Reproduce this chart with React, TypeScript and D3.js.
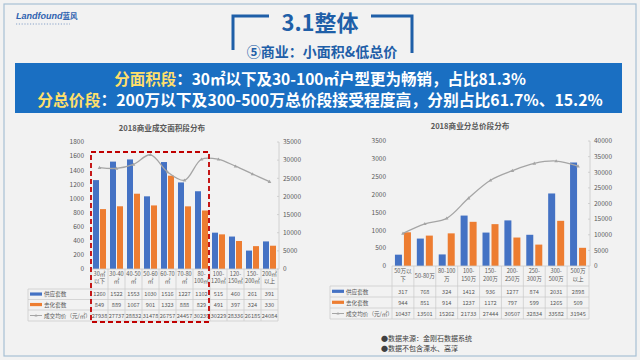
import React from 'react';
import * as d3 from 'd3';

// ---------- data ----------
const areaCats = ['30㎡\n以下', '30-40\n㎡', '40-50\n㎡', '50-60\n㎡', '60-70\n㎡', '70-80\n㎡', '80-\n100㎡', '100-\n120㎡', '120-\n150㎡', '150-\n200㎡', '200㎡\n以上'];
const areaSupply = [1260, 1522, 1553, 1030, 1516, 1227, 1102, 515, 460, 261, 391];
const areaSold = [849, 889, 1067, 901, 1323, 888, 829, 491, 397, 324, 330];
const areaPrice = [27938, 27737, 28832, 31478, 26757, 24457, 30239, 30229, 28336, 26185, 24084];

const priceCats = ['50万以\n下', '50-80万', '80-100\n万', '100-\n150万', '150-\n200万', '200-\n250万', '250-\n300万', '300-\n500万', '500万\n以上'];
const priceSupply = [317, 768, 324, 1412, 936, 1277, 874, 2031, 2898];
const priceSold = [944, 851, 914, 1237, 1172, 797, 599, 1265, 509];
const priceAvg = [10437, 13501, 15262, 21733, 27444, 30507, 32834, 33582, 31945];

const seriesNames = ['供应套数', '去化套数', '成交均价（元/㎡）'];
const areaLeftTicks = [0, 200, 400, 600, 800, 1000, 1200, 1400, 1600, 1800];
const areaRightTicks = [0, 5000, 10000, 15000, 20000, 25000, 30000, 35000];
const priceLeftTicks = [0, 500, 1000, 1500, 2000, 2500, 3000, 3500];
const priceRightTicks = [0, 5000, 10000, 15000, 20000, 25000, 30000, 35000, 40000];

const BLUE = '#4472c4';
const ORANGE = '#ed7d31';
const GRAY = '#a5a5a5';
const TXT = '#595959';
const GRID = '#c9c9c9';
const FONT = '"Noto Sans CJK SC", "Noto Sans", sans-serif';

type ChartProps = {
  title: string;
  titleX: number;
  titleY: number;
  cats: string[];
  supply: number[];
  sold: number[];
  price: number[];
  leftTicks: number[];
  rightTicks: number[];
  x0: number;
  x1: number;
  yTop: number;
  yBottom: number;
  legendX: number;
  leftLabelX: number;
  rightAxisX: number;
  rows: number[];
  barW: number;
  gap: number;
  headerLines: [number, number, number];
};

function Chart(p: ChartProps) {
  const x = d3.scaleBand<string>().domain(p.cats).range([p.x0, p.x1]).padding(0);
  const yL = d3.scaleLinear().domain([0, d3.max(p.leftTicks) as number]).range([p.yBottom, p.yTop]);
  const yR = d3.scaleLinear().domain([0, d3.max(p.rightTicks) as number]).range([p.yBottom, p.yTop]);
  const cx = (c: string) => (x(c) as number) + x.bandwidth() / 2;
  const line = d3
    .line<number>()
    .x((_, i) => cx(p.cats[i]))
    .y((d) => yR(d))
    .curve(d3.curveCatmullRom.alpha(0.5));
  const tableBottom = p.rows[p.rows.length - 1];
  const rowVals = [p.supply, p.sold, p.price];
  return (
    <g fontFamily={FONT}>
      <text x={p.titleX} y={p.titleY} textAnchor="middle" fontSize={7.6} fill={TXT} fontWeight={600}>
        {p.title}
      </text>
      {p.leftTicks.map((t) => (
        <text key={'l' + t} x={p.leftLabelX} y={yL(t) + 2.3} textAnchor="end" fontSize={6.5} fill={TXT}>
          {t}
        </text>
      ))}
      <line x1={p.rightAxisX} x2={p.rightAxisX} y1={p.yTop} y2={p.yBottom} stroke={GRID} strokeWidth={0.8} />
      {p.rightTicks.map((t) => (
        <g key={'r' + t}>
          <line x1={p.rightAxisX - 2} x2={p.rightAxisX} y1={yR(t)} y2={yR(t)} stroke={GRID} strokeWidth={0.8} />
          <text x={p.rightAxisX + 4} y={yR(t) + 2.3} fontSize={6.5} fill={TXT}>
            {t}
          </text>
        </g>
      ))}
      {p.cats.map((c, i) => (
        <g key={'b' + i}>
          <rect x={cx(c) - p.gap / 2 - p.barW} y={yL(p.supply[i])} width={p.barW} height={p.yBottom - yL(p.supply[i])} fill={BLUE} />
          <rect x={cx(c) + p.gap / 2} y={yL(p.sold[i])} width={p.barW} height={p.yBottom - yL(p.sold[i])} fill={ORANGE} />
        </g>
      ))}
      <path d={line(p.price) || ''} fill="none" stroke={GRAY} strokeWidth={1.3} />
      {p.price.map((v, i) => {
        const px = cx(p.cats[i]);
        const py = yR(v);
        return <path key={'m' + i} d={`M${px},${py - 1.8}L${px + 1.8},${py + 1.3}L${px - 1.8},${py + 1.3}Z`} fill={GRAY} />;
      })}
      <line x1={p.x0} x2={p.x1} y1={p.yBottom} y2={p.yBottom} stroke={GRID} strokeWidth={0.8} />
      {p.rows.map((ry, i) => (
        <line key={'h' + i} x1={p.legendX} x2={p.x1} y1={ry} y2={ry} stroke={GRID} strokeWidth={0.7} />
      ))}
      <line x1={p.legendX} x2={p.legendX} y1={p.rows[0]} y2={tableBottom} stroke={GRID} strokeWidth={0.7} />
      {p.cats.map((c, i) => (
        <line key={'v' + i} x1={x(c) as number} x2={x(c) as number} y1={p.yBottom} y2={tableBottom} stroke={GRID} strokeWidth={0.7} />
      ))}
      <line x1={p.x1} x2={p.x1} y1={p.yBottom} y2={tableBottom} stroke={GRID} strokeWidth={0.7} />
      {p.cats.map((c, i) => {
        const parts = c.split('\n');
        if (parts.length === 1)
          return (
            <text key={'c' + i} x={cx(c)} y={p.headerLines[2]} textAnchor="middle" fontSize={5.6} fill={TXT}>
              {parts[0]}
            </text>
          );
        return (
          <text key={'c' + i} textAnchor="middle" fontSize={5.6} fill={TXT}>
            <tspan x={cx(c)} y={p.headerLines[0]}>{parts[0]}</tspan>
            <tspan x={cx(c)} y={p.headerLines[1]}>{parts[1]}</tspan>
          </text>
        );
      })}
      {rowVals.map((vals, r) => {
        const mid = (p.rows[r] + p.rows[r + 1]) / 2;
        return (
          <g key={'row' + r}>
            {r === 0 && <rect x={p.legendX + 2} y={mid - 1.8} width={12} height={3.2} fill={BLUE} />}
            {r === 1 && <rect x={p.legendX + 2} y={mid - 1.8} width={12} height={3.2} fill={ORANGE} />}
            {r === 2 && (
              <g>
                <line x1={p.legendX + 2} x2={p.legendX + 14} y1={mid} y2={mid} stroke={GRAY} strokeWidth={1} />
                <path d={`M${p.legendX + 8},${mid - 1.5}L${p.legendX + 9.5},${mid + 1}L${p.legendX + 6.5},${mid + 1}Z`} fill={GRAY} />
              </g>
            )}
            <text x={p.legendX + 16} y={mid + 2} fontSize={5.6} fill={TXT}>
              {seriesNames[r]}
            </text>
            {vals.map((v, i) => (
              <text key={i} x={cx(p.cats[i])} y={mid + 2} textAnchor="middle" fontSize={5.6} fill={TXT}>
                {v}
              </text>
            ))}
          </g>
        );
      })}
    </g>
  );
}

export default function App() {
  return (
    <svg width={640} height={360} style={{ position: 'absolute', left: 0, top: 0, display: 'block' }} fontFamily={FONT}>
      <rect x={0} y={0} width={640} height={360} fill="#f2f2f2" />
      <rect x={4} y={4} width={632} height={352} fill="#f2f2f2" stroke="#a7c0d4" strokeWidth={1.2} />
      <text x={16} y={19} fontSize={9} fontStyle="italic" fontWeight={700} fill="#2f63b0" fontFamily='"Liberation Sans", Arial, sans-serif'>
        Landfound<tspan fontFamily={FONT} fontStyle="normal" fontSize={7.5}>蓝风</tspan>
      </text>
      <line x1={16} x2={70} y1={24} y2={24} stroke="#6f8fbf" strokeWidth={0.8} strokeDasharray="1.2,1.6" />
      <path d="M269,16 H233 V50" fill="none" stroke="#1f5fa8" strokeWidth={3} />
      <path d="M371,16 H412 V53" fill="none" stroke="#1f5fa8" strokeWidth={3} />
      <text x={320} y={31} textAnchor="middle" fontSize={22} fontWeight={700} fill="#1f5fa8">
        3.1整体
      </text>
      <text x={322} y={57} textAnchor="middle" fontSize={14} fontWeight={700} fill="#1f5fa8">
        ⑤商业：小面积&amp;低总价
      </text>
      <rect x={15} y={63} width={607} height={50} fill="#1a6fc2" />
      <text x={320} y={85} textAnchor="middle" fontSize={15.5} fontWeight={700} fill="#ffffff">
        <tspan fill="#ffdf6b">分面积段</tspan>：30㎡以下及30-100㎡户型更为畅销，占比81.3%
      </text>
      <text x={320} y={106} textAnchor="middle" fontSize={15.8} fontWeight={700} fill="#ffffff">
        <tspan fill="#ffdf6b">分总价段</tspan>：200万以下及300-500万总价段接受程度高，分别占比61.7%、15.2%
      </text>

      <Chart
        title="2018商业成交面积段分布"
        titleX={162}
        titleY={131}
        cats={areaCats}
        supply={areaSupply}
        sold={areaSold}
        price={areaPrice}
        leftTicks={areaLeftTicks}
        rightTicks={areaRightTicks}
        x0={91}
        x1={278}
        yTop={142}
        yBottom={269}
        legendX={28}
        leftLabelX={84}
        rightAxisX={279}
        rows={[289, 299.5, 310, 321]}
        barW={6}
        gap={1}
        headerLines={[276, 283, 280]}
      />
      <Chart
        title="2018商业分总价段分布"
        titleX={470}
        titleY={129}
        cats={priceCats}
        supply={priceSupply}
        sold={priceSold}
        price={priceAvg}
        leftTicks={priceLeftTicks}
        rightTicks={priceRightTicks}
        x0={392}
        x1={589}
        yTop={141}
        yBottom={266}
        legendX={330}
        leftLabelX={386}
        rightAxisX={590}
        rows={[286, 297, 308, 319]}
        barW={7}
        gap={2}
        headerLines={[273, 281, 278]}
      />
      <rect x={91} y={152} width={118} height={170} fill="none" stroke="#c00000" strokeWidth={1.8} strokeDasharray="5,3" />
      <text x={381} y={341} fontSize={7} fill="#404040">●数据来源：金刚石数据系统</text>
      <text x={381} y={351} fontSize={7} fill="#404040">●数据不包含溧水、高淳</text>
    </svg>
  );
}
